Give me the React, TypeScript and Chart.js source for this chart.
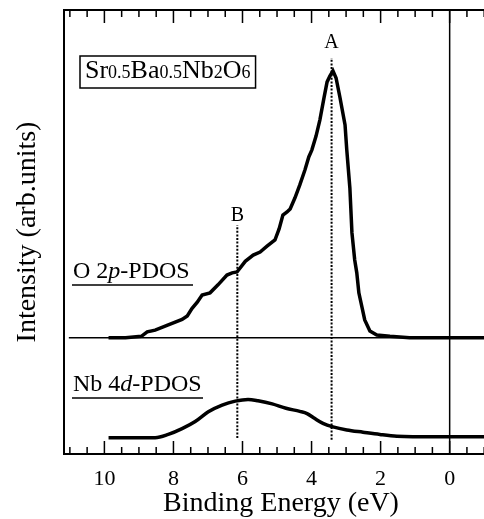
import { useEffect, useRef } from "react";
import { Chart, registerables } from "chart.js";

Chart.register(...registerables);

// Binding energy (eV) and intensity (arb. units) for O 2p-PDOS
const energyO = [9.88, 9.39, 8.93, 8.76, 8.53, 8.15, 7.75, 7.6, 7.46, 7.31, 7.17, 6.94, 6.71, 6.45, 6.3, 6.16, 5.92, 5.69, 5.49, 5.29, 5.06, 4.94, 4.83, 4.71, 4.62, 4.48, 4.34, 4.19, 4.08, 3.99, 3.87, 3.76, 3.64, 3.55, 3.47, 3.38, 3.29, 3.18, 3.03, 2.98, 2.89, 2.83, 2.75, 2.69, 2.63, 2.54, 2.46, 2.31, 2.11, 1.73, 1.16, -1.4];
const intensityO = [26.2, 26.2, 26.5, 27.5, 27.9, 29.1, 30.3, 31.1, 32.8, 34.2, 35.8, 36.3, 38.1, 40.3, 40.8, 41.0, 43.4, 44.8, 45.5, 46.8, 48.2, 50.7, 53.8, 54.5, 55.2, 57.7, 60.6, 64.0, 66.9, 68.5, 71.6, 75.2, 80.2, 83.8, 85.1, 86.3, 84.7, 80.4, 74.1, 68.5, 59.9, 49.8, 43.7, 40.8, 36.3, 33.1, 30.2, 27.7, 26.8, 26.5, 26.2, 26.2];

// Nb 4d-PDOS
const energyNb = [9.88, 9.25, 8.53, 8.15, 7.75, 7.37, 6.99, 6.59, 6.21, 5.84, 5.55, 5.14, 4.74, 4.34, 4.13, 3.93, 3.67, 3.38, 2.98, 2.51, 2.02, 1.53, 1.07, -1.4];
const intensityNb = [3.67, 3.67, 3.67, 4.4, 5.7, 7.3, 9.5, 11.0, 11.9, 12.3, 12.0, 11.3, 10.3, 9.6, 9.1, 8.1, 6.9, 6.1, 5.4, 4.9, 4.4, 4.0, 3.9, 3.9];

const xTickValues = [10, 8, 6, 4, 2, 0];
const peakA = 3.42;
const peakB = 6.15;
const lineA = [3.2, 89.2];
const lineB = [3.6, 51.6];
const baselineO = 26.2;
const baselineSpan = [11.03, -1.4];
const fermiSpan = [0, 100];
const xRange = [-1.4, 11.17];
const yRange = [0, 100];

const SERIF = "'Liberation Serif', 'Times New Roman', Times, serif";

export default function App() {
  const ref = useRef<HTMLCanvasElement>(null);

  useEffect(() => {
    const canvas = ref.current;
    if (!canvas) return;

    const deco = {
      id: "deco",
      afterDatasetsDraw(chart: any) {
        const { ctx, chartArea } = chart;
        const xs = chart.scales.x;
        const ys = chart.scales.y;
        const { left, right, top, bottom } = chartArea;
        ctx.save();
        ctx.strokeStyle = "#000";
        ctx.fillStyle = "#000";
        // top & right frame
        ctx.lineWidth = 2;
        ctx.beginPath();
        ctx.moveTo(left, top);
        ctx.lineTo(right, top);
        ctx.lineTo(right, bottom);
        ctx.stroke();
        // inward ticks top & bottom
        ctx.lineWidth = 1.5;
        for (let i = -2; i <= 22; i++) {
          const v = i * 0.5;
          if (v < xRange[0] || v > xRange[1]) continue;
          const px = xs.getPixelForValue(v);
          const major = i % 4 === 0;
          const len = major ? 13 : 7;
          ctx.beginPath();
          ctx.moveTo(px, bottom);
          ctx.lineTo(px, bottom - len);
          ctx.moveTo(px, top);
          ctx.lineTo(px, top + len);
          ctx.stroke();
        }
        // A, B labels
        ctx.font = `20px ${SERIF}`;
        ctx.textAlign = "center";
        ctx.textBaseline = "alphabetic";
        ctx.fillText("A", xs.getPixelForValue(peakA), ys.getPixelForValue(91.4));
        ctx.fillText("B", xs.getPixelForValue(peakB), ys.getPixelForValue(52.5));

        // series labels with underline
        const drawParts = (parts: [string, string][], x: number, y: number) => {
          let cx = x;
          ctx.textAlign = "left";
          for (const [txt, font] of parts) {
            ctx.font = font;
            ctx.fillText(txt, cx, y);
            cx += ctx.measureText(txt).width;
          }
          return cx;
        };
        const f24 = `24px ${SERIF}`;
        const i24 = `italic 24px ${SERIF}`;
        drawParts([["O 2", f24], ["p", i24], ["-PDOS", f24]], left + 9, 278);
        drawParts([["Nb 4", f24], ["d", i24], ["-PDOS", f24]], left + 9, 391);
        ctx.lineWidth = 1.5;
        ctx.beginPath();
        ctx.moveTo(left + 8, 285);
        ctx.lineTo(193, 285);
        ctx.moveTo(left + 8, 398);
        ctx.lineTo(203, 398);
        ctx.stroke();

        // compound box
        const big = `26px ${SERIF}`;
        const small = `18px ${SERIF}`;
        const endX = drawParts(
          [["Sr", big], ["0.5", small], ["Ba", big], ["0.5", small], ["Nb", big], ["2", small], ["O", big], ["6", small]],
          left + 21,
          78
        );
        ctx.lineWidth = 1.5;
        ctx.strokeRect(left + 16, 56, endX + 5 - (left + 16), 32);
        ctx.restore();
      },
    };

    const chart = new Chart(canvas, {
      type: "line",
      data: {
        datasets: [
          {
            label: "O 2p-PDOS",
            data: energyO.map((x, i) => ({ x, y: intensityO[i] })),
            borderColor: "#000",
            borderWidth: 3.5,
            pointRadius: 0,
            tension: 0,
            fill: false,
          },
          {
            label: "Nb 4d-PDOS",
            data: energyNb.map((x, i) => ({ x, y: intensityNb[i] })),
            borderColor: "#000",
            borderWidth: 3.5,
            pointRadius: 0,
            cubicInterpolationMode: "monotone",
            fill: false,
          },
          {
            label: "baseline",
            data: baselineSpan.map((x) => ({ x, y: baselineO })),
            borderColor: "#000",
            borderWidth: 1.5,
            pointRadius: 0,
          },
          {
            label: "E=0",
            data: fermiSpan.map((y) => ({ x: 0, y })),
            borderColor: "#000",
            borderWidth: 1.5,
            pointRadius: 0,
          },
          {
            label: "A",
            data: lineA.map((y) => ({ x: peakA, y })),
            borderColor: "#000",
            borderWidth: 2,
            borderDash: [2, 1.6],
            pointRadius: 0,
          },
          {
            label: "B",
            data: lineB.map((y) => ({ x: peakB, y })),
            borderColor: "#000",
            borderWidth: 2,
            borderDash: [2, 1.6],
            pointRadius: 0,
          },
        ],
      },
      options: {
        animation: false,
        responsive: false,
        devicePixelRatio: 1,
        layout: { padding: { left: 0, top: 10, right: 2, bottom: 0 } },
        plugins: { legend: { display: false }, tooltip: { enabled: false } },
        scales: {
          x: {
            type: "linear",
            reverse: true,
            min: xRange[0],
            max: xRange[1],
            afterBuildTicks: (s: any) => {
              s.ticks = xTickValues.map((value) => ({ value }));
            },
            afterFit: (s: any) => {
              s.height = 65;
            },
            grid: { display: false, drawTicks: false },
            border: { display: true, color: "#000", width: 2 },
            ticks: {
              color: "#000",
              padding: 12,
              font: { family: SERIF, size: 22 },
              autoSkip: false,
              maxRotation: 0,
            },
            title: {
              display: true,
              text: "Binding Energy (eV)",
              color: "#000",
              font: { family: SERIF, size: 28, lineHeight: 1.1 },
              padding: 0,
            },
          },
          y: {
            type: "linear",
            min: yRange[0],
            max: yRange[1],
            afterFit: (s: any) => {
              s.width = 64;
            },
            grid: { display: false, drawTicks: false },
            border: { display: true, color: "#000", width: 2 },
            ticks: { display: false },
            title: {
              display: true,
              text: "Intensity (arb.units)",
              color: "#000",
              font: { family: SERIF, size: 28, lineHeight: 1.1 },
              padding: 12,
            },
          },
        },
      },
      plugins: [deco],
    } as any);

    return () => chart.destroy();
  }, []);

  return (
    <div
      style={{
        position: "fixed",
        left: 0,
        top: 0,
        width: 484,
        height: 519,
        overflow: "hidden",
        background: "#fff",
      }}
    >
      <canvas ref={ref} width={500} height={519} style={{ display: "block", width: 500, height: 519 }} />
    </div>
  );
}
